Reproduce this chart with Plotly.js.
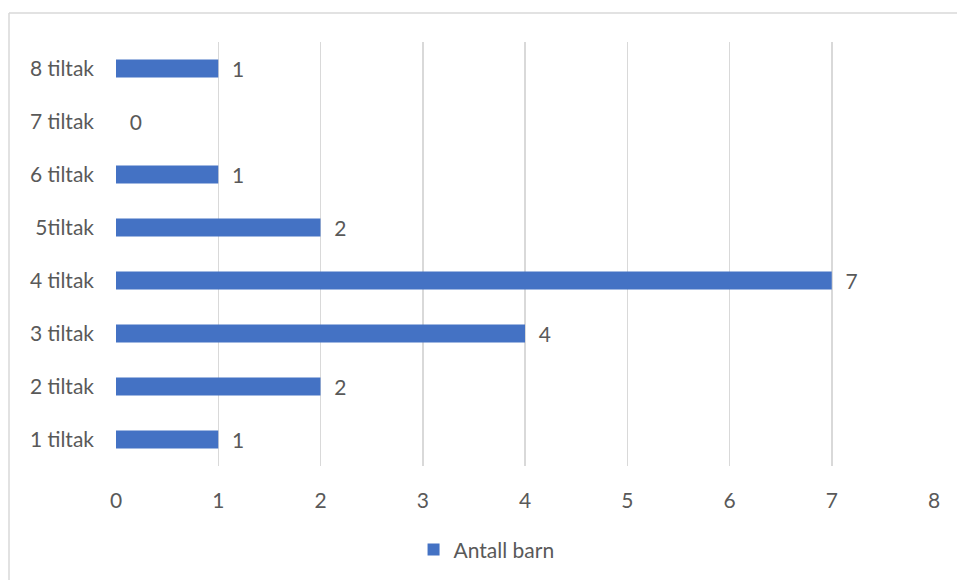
<!DOCTYPE html>
<html>
<head>
<meta charset="utf-8">
<script src="https://cdn.plot.ly/plotly-3.0.1.min.js"></script>
<style>
html,body{margin:0;padding:0;background:#fff;overflow:hidden;}
#chart{width:957px;height:580px;}
</style>
</head>
<body>
<div id="chart"></div>
<script>
const categories = ["1 tiltak", "2 tiltak", "3 tiltak", "4 tiltak", "5tiltak", "6 tiltak", "7 tiltak", "8 tiltak"];
const values = [1, 2, 4, 7, 2, 1, 0, 1];
const seriesName = "Antall barn";
const xTicks = [0, 1, 2, 3, 4, 5, 6, 7, 8];

const font = {family: "Lato, 'Open Sans', sans-serif", size: 21, color: "#595959"};

const trace = {
  type: "bar",
  orientation: "h",
  y: categories,
  x: values,
  name: seriesName,
  marker: {color: "#4472C4"},
  text: values.map(v => "\u00a0\u00a0" + v),
  textposition: "outside",
  constraintext: "none",
  textfont: font,
  cliponaxis: false,
  showlegend: true,
  hoverinfo: "x+y"
};

const layout = {
  width: 957,
  height: 580,
  margin: {l: 116, r: 23, t: 42, b: 114, autoexpand: false},
  paper_bgcolor: "#ffffff",
  plot_bgcolor: "#ffffff",
  font: font,
  bargap: 0.66,
  showlegend: true,
  xaxis: {
    range: [0, 8],
    tickvals: xTicks,
    showgrid: true,
    gridcolor: "#d9d9d9",
    gridwidth: 1.5,
    zeroline: false,
    showline: false,
    ticks: "",
    ticklen: 0,
    ticklabelstandoff: 20,
    tickfont: font,
    fixedrange: true,
    automargin: false
  },
  yaxis: {
    type: "category",
    categoryorder: "array",
    categoryarray: categories,
    showgrid: false,
    zeroline: false,
    showline: false,
    ticks: "",
    ticklabelstandoff: 21,
    tickfont: font,
    fixedrange: true,
    automargin: false
  },
  legend: {
    orientation: "h",
    x: 0.453,
    xanchor: "center",
    y: -0.198,
    yanchor: "middle",
    font: font,
    itemwidth: 30
  },
  shapes: [
    {type: "line", xref: "paper", yref: "paper", x0: -0.1308, x1: 1.2, y0: 1.0684, y1: 1.0684, line: {color: "#d9d9d9", width: 1.5}},
    {type: "line", xref: "paper", yref: "paper", x0: -0.1308, x1: -0.1308, y0: 1.0684, y1: -0.4, line: {color: "#d9d9d9", width: 1.5}}
  ]
};

Plotly.newPlot("chart", [trace], layout, {displayModeBar: false, staticPlot: true});
</script>
</body>
</html>
